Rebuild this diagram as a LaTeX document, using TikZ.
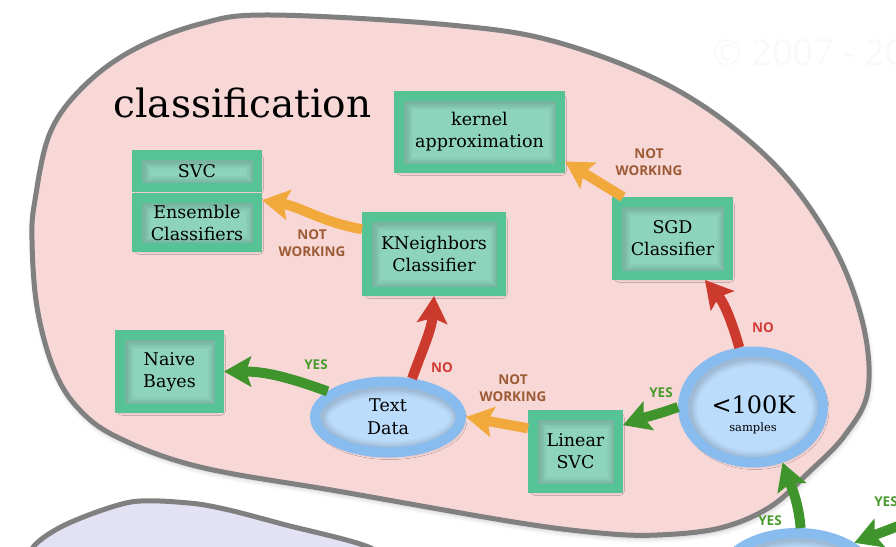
\documentclass[tikz,border=0pt]{standalone}
\usepackage{fontspec}
\setmainfont{DejaVu Serif}
\newfontfamily\labfont{Open Sans}
\usetikzlibrary{arrows.meta,shapes.geometric,shadows.blur,calc}

\definecolor{blobfill}{HTML}{F8D7D7}
\definecolor{blobline}{HTML}{808080}
\definecolor{lavfill}{HTML}{E2E2F4}
\definecolor{boxgreen}{HTML}{55C396}
\definecolor{boxin}{HTML}{8ED4BD}
\definecolor{ellring}{HTML}{88BCEF}
\definecolor{ellin}{HTML}{BBDCFA}
\definecolor{arrred}{HTML}{CC3A2E}
\definecolor{arrgreen}{HTML}{3F952B}
\definecolor{arrorange}{HTML}{F2A93B}
\definecolor{labred}{HTML}{D23C36}
\definecolor{labgreen}{HTML}{4A9B2D}
\definecolor{labbrown}{HTML}{9C5B34}

\tikzset{
  algbox/.style 2 args={rectangle, draw=boxgreen, line width=9.5pt, fill=boxin,
    inner sep=0pt, align=center, minimum width=#1, minimum height=#2,
    font=\fontsize{17.5}{22}\selectfont,
    blur shadow={shadow xshift=2pt, shadow yshift=-3pt, shadow blur radius=4pt, shadow opacity=30},
    path picture={\foreach \w/\o in {26/0.02,23/0.025,20/0.03,17/0.035,14/0.04}{
      \draw[black, opacity=\o, line width=\w pt]
        ([xshift=1.5pt,yshift=-1.5pt]path picture bounding box.south west) rectangle
        ([xshift=1.5pt,yshift=-1.5pt]path picture bounding box.north east);}}},
  ellnode/.style 2 args={ellipse, draw=ellring, line width=10pt, fill=ellin,
    inner sep=0pt, align=center, minimum width=#1, minimum height=#2,
    font=\fontsize{17.5}{23}\selectfont,
    blur shadow={shadow xshift=2pt, shadow yshift=-3pt, shadow blur radius=4pt, shadow opacity=30},
    path picture={\foreach \w/\o in {26/0.02,23/0.025,20/0.03,17/0.035,14/0.04}{
      \draw[black, opacity=\o, line width=\w pt]
        ([xshift=1.5pt,yshift=-1.5pt]path picture bounding box.center)
        ellipse [x radius=#1/2, y radius=#2/2];}}},
  arr/.style={line width=10pt, -{Stealth[width=30pt,length=27pt,inset=5pt]}},
  lab/.style={font=\labfont\bfseries\fontsize{13.5}{17}\selectfont, align=center, inner sep=0pt},
  blob/.style={line width=5pt, draw=blobline},
}

\begin{document}
\begin{tikzpicture}[x=1pt,y=-1pt]
\useasboundingbox (0,0) rectangle (896,546);
\clip (0,0) rectangle (896,546);

% watermark
\node[anchor=base west, font=\labfont\fontsize{36}{36}\selectfont, text=black!2.5, inner sep=0pt] (wm) at (712,65) {© 2007 - 20};

% lavender region (bottom left)
\draw[blob, fill=lavfill] plot[smooth] coordinates {(20,580) (34,546) (69,523) (131,502) (189,503) (229,510) (286,525) (366,546) (420,575)} -- (420,620) -- (20,620) -- cycle;

% classification region
\draw[blob, fill=blobfill, blur shadow={shadow xshift=1pt, shadow yshift=-3pt, shadow opacity=25, shadow blur radius=5pt}]
  plot[smooth cycle, tension=0.6] coordinates {(35,200) (50,133) (83,87) (133,50) (200,24) (270,15) (450,25) (560,43) (677,90) (770,160) (830,240) (862,320) (868,390) (845,435) (808,473) (770,507) (720,528) (657,535) (600,533) (514,522) (343,492) (200,467) (117,437) (77,407) (53,367) (37,307) (32,240)};

\node[anchor=base, font=\fontsize{39}{39}\selectfont, inner sep=0pt] (title) at (242.5,117) {classification};

% bottom ellipse (partly visible)
\node[ellnode={154pt}{94pt}] (bot) at (797,580) {};

% boxes
\node[algbox={161.5pt}{72.5pt}] (kernel) at (479.5,132) {kernel\\approximation};
\node[algbox={120.5pt}{32.5pt}] (svc) at (197,171) {SVC};
\node[algbox={120.5pt}{49.5pt}] (ens) at (197,222.5) {Ensemble\\Classifiers};
\node[algbox={134.5pt}{74.5pt}] (kn) at (434,254) {KNeighbors\\Classifier};
\node[algbox={111.5pt}{73.5pt}] (sgd) at (672.5,238.5) {SGD\\Classifier};
\node[algbox={99.5pt}{73.5pt}] (nb) at (169.5,371.5) {Naive\\Bayes};
\node[algbox={85.5pt}{73.5pt}] (lsvc) at (575.5,451.5) {Linear\\SVC};

% decision ellipses
\node[ellnode={146pt}{71pt}] (textdata) at (388,417) {Text\\Data};
\node[ellnode={140pt}{111pt}] (n100k) at (753,407) {};
\node[anchor=base, inner sep=0pt, font=\fontsize{24}{24}\selectfont] (n100kt) at (753.5,413) {<100K};
\node[anchor=base, inner sep=0pt, font=\fontsize{11.5}{14}\selectfont] (n100ks) at (753,431) {samples};

% connectors
\draw[arr, arrred] (n100k.103) to[out=106,in=-50] (sgd.-52);
\draw[arr, arrgreen] (n100k.west) to[out=200,in=20] (lsvc.29);
\draw[arr, arrorange] (lsvc.154) -- (textdata.east);
\draw[arr, arrred] (textdata.58) to[out=70,in=-94] (kn.south);
\draw[arr, arrgreen] (textdata.157) to[out=160,in=0] (nb.east);
\draw[arr, arrorange] (kn.161) to[out=170,in=-10] (ens.19);
\draw[arr, arrorange] (sgd.140) -- (kernel.-19);
\draw[arr, arrgreen] (bot.86) to[out=95,in=-70] (n100k.-62);
\coordinate (offr) at (935,512);
\draw[arr, arrgreen] (offr) -- (bot.33);

% labels
\node[lab, text=labbrown] (nw1) at (649,162) {NOT\\WORKING};
\node[lab, text=labbrown] (nw2) at (312,243) {NOT\\WORKING};
\node[lab, text=labbrown] (nw3) at (513,388) {NOT\\WORKING};
\node[lab, text=labred] (no1) at (442,368) {NO};
\node[lab, text=labred] (no2) at (763,328) {NO};
\node[lab, text=labgreen] (y1) at (661,393) {YES};
\node[lab, text=labgreen] (y2) at (316,365) {YES};
\node[lab, text=labgreen] (y3) at (770,521) {YES};
\node[lab, text=labgreen] (y4) at (886,502) {YES};
\end{tikzpicture}
\end{document}
